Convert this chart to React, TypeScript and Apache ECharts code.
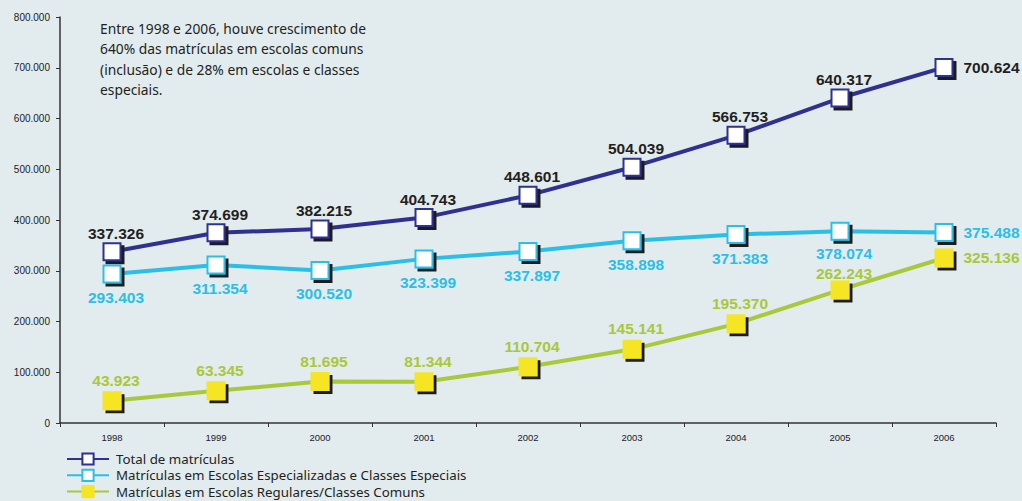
import React, { useEffect, useRef } from "react";
import * as echarts from "echarts";

const years = ["1998", "1999", "2000", "2001", "2002", "2003", "2004", "2005", "2006"];
const total = [337326, 374699, 382215, 404743, 448601, 504039, 566753, 640317, 700624];
const especiais = [293403, 311354, 300520, 323399, 337897, 358898, 371383, 378074, 375488];
const comuns = [43923, 63345, 81695, 81344, 110704, 145141, 195370, 262243, 325136];
const seriesNames = [
  "Total de matrículas",
  "Matrículas em Escolas Especializadas e Classes Especiais",
  "Matrículas em Escolas Regulares/Classes Comuns",
];
const note =
  "Entre 1998 e 2006, houve crescimento de\n640% das matrículas em escolas comuns\n(inclusão) e de 28% em escolas e classes\nespeciais.";

const fmt = (v: number) => String(v).replace(/\B(?=(\d{3})+(?!\d))/g, ".");

export default function App() {
  const ref = useRef<HTMLDivElement>(null);
  useEffect(() => {
    if (!ref.current) return;
    const chart = echarts.init(ref.current, null, { renderer: "svg" });
    const shadow = {
      shadowColor: "#1b1b1b",
      shadowOffsetX: 3,
      shadowOffsetY: 3,
      shadowBlur: 0,
    };
    const labelFont = {
      fontFamily: "Liberation Sans, Arial, sans-serif",
      fontWeight: "bold" as const,
      fontSize: 15.5,
    };
    const mkData = (vals: number[], pos: string, dist: number[]) =>
      vals.map((v, i) => {
        const last = i === vals.length - 1;
        return {
          value: v,
          label: {
            position: last ? "right" : pos,
            distance: last ? 10 : dist[i],
            offset: last ? [0, 0] : [4, 0],
          },
        };
      });
    const mkSeries = (
      name: string,
      vals: number[],
      lineColor: string,
      fill: string,
      border: string,
      textColor: string,
      pos: string,
      dist: number[]
    ) => ({
      name,
      type: "line",
      data: mkData(vals, pos, dist),
      symbol: "rect",
      symbolSize: 17,
      lineStyle: { color: lineColor, width: 4 },
      itemStyle: { color: fill, borderColor: border, borderWidth: 2, ...shadow },
      label: {
        show: true,
        color: textColor,
        ...labelFont,
        formatter: (p: any) => fmt(p.value),
      },
    });
    chart.setOption({
      animation: false,
      backgroundColor: "#e2ebee",
      grid: { left: 60, right: 26, top: 17, bottom: 78 },
      xAxis: {
        type: "category",
        data: years,
        boundaryGap: true,
        axisLine: { lineStyle: { color: "#333", width: 1.5 } },
        axisTick: { show: true, inside: false, length: 4, lineStyle: { color: "#333" } },
        axisLabel: {
          color: "#222",
          fontSize: 9.5,
          fontFamily: "Liberation Sans, Arial, sans-serif",
          margin: 9,
        },
      },
      yAxis: {
        type: "value",
        min: 0,
        max: 800000,
        interval: 100000,
        splitLine: { show: false },
        axisLine: { show: true, lineStyle: { color: "#333", width: 1.5 } },
        axisTick: { show: true, length: 4, lineStyle: { color: "#333" } },
        axisLabel: {
          color: "#222",
          fontSize: 10,
          fontFamily: "Liberation Sans, Arial, sans-serif",
          margin: 10,
          formatter: (v: number) => fmt(v),
        },
      },
      legend: {
        orient: "vertical",
        left: 66,
        top: 452,
        padding: 0,
        itemGap: 2.3,
        itemWidth: 42,
        itemHeight: 14,
        data: seriesNames,
        textStyle: {
          color: "#231f20",
          fontSize: 13.3,
          lineHeight: 14,
          fontFamily: "Noto Sans, Open Sans, sans-serif",
          padding: [0, 0, 0, 2],
        },
        itemStyle: { shadowBlur: 0, shadowOffsetX: 0, shadowOffsetY: 0, shadowColor: "transparent" },
      },
      graphic: [
        {
          type: "text",
          left: 100,
          top: 18,
          style: {
            text: note,
            fontSize: 13.8,
            lineHeight: 20.5,
            fill: "#231f20",
            fontFamily: "Noto Sans, Open Sans, sans-serif",
          },
        },
      ],
      series: [
        mkSeries(seriesNames[0], total, "#2e3192", "#ffffff", "#2e3192", "#231f20", "top", [1, 1, 1, 1, 1, 1, 1, 1, 1]),
        mkSeries(seriesNames[1], especiais, "#2bbfe8", "#ffffff", "#2bbfe8", "#2bbfe8", "bottom", [6, 6, 6, 6, 6, 6, 6, 5, 6]),
        mkSeries(seriesNames[2], comuns, "#a9c83a", "#f6e522", "#f6e522", "#a9c83a", "top", [3, 3, 3, 3, 3, 3, 3, -1, 3]),
      ],
    });
    return () => chart.dispose();
  }, []);
  return (
    <div
      ref={ref}
      style={{ position: "fixed", left: 0, top: 0, width: 1022, height: 501 }}
    />
  );
}
